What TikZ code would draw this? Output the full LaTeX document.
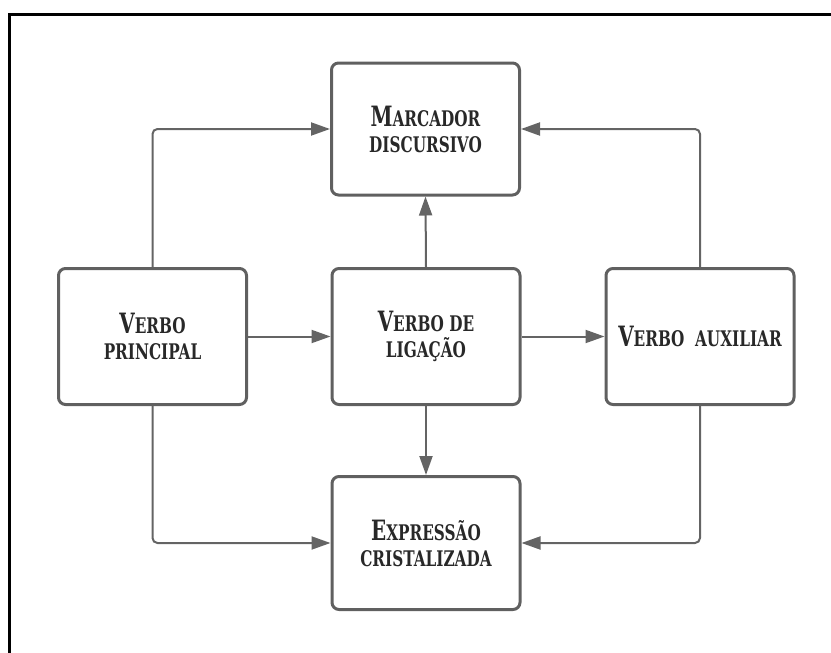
\documentclass[tikz,border=0pt]{standalone}
\usepackage{fontspec}
\setmainfont{DejaVu Serif}[FakeStretch=0.71]
\usepackage{tikz}
\usetikzlibrary{arrows.meta}
\definecolor{BoxGray}{RGB}{96, 96, 96}
\definecolor{LinkGray}{RGB}{100, 100, 100}
\definecolor{InkGray}{RGB}{40, 40, 40}
\newcommand{\bigini}[1]{{\fontsize{28}{26}\selectfont #1}}

\begin{document}
\begin{tikzpicture}[x=1pt, y=-1pt,
    box/.style = {draw = BoxGray, line width = 3pt, rounded corners = 7pt,
        minimum width = 188pt, minimum height = 136pt, align = center,
        text = InkGray, font = \bfseries\fontsize{21.5}{26}\selectfont},
    link/.style = {draw = LinkGray, line width = 2pt, rounded corners = 5pt,
        -{Triangle[length = 19pt, width = 13pt]}}]
    \useasboundingbox (0,0) rectangle (831,653);
    % Frame
    \draw[line width = 3pt] (9,653) to (9,14) to (831,14);
    % Boxes
    \node[box, minimum height = 132pt] (marc) at (425.5,129) {\bigini{M}ARCADOR\\DISCURSIVO};
    \node[box] (princ) at (152.5,336.5) {\bigini{V}ERBO\\PRINCIPAL};
    \node[box] (lig) at (426,336.5) {\bigini{V}ERBO DE\\LIGAÇÃO};
    \node[box] (aux) at (700,336.5) {\bigini{V}ERBO\ \ AUXILIAR};
    \node[box, minimum height = 133pt] (expr) at (426,543) {\bigini{E}XPRESSÃO\\CRISTALIZADA};
    % Links
    \draw[link] (princ.north) |- (marc.west);
    \draw[link] (aux.north) |- (marc.east);
    \draw[link] (lig.north) to (marc.south);
    \draw[link] (princ.east) to (lig.west);
    \draw[link] (lig.east) to (aux.west);
    \draw[link] (lig.south) to (expr.north);
    \draw[link] (princ.south) |- (expr.west);
    \draw[link] (aux.south) |- (expr.east);
\end{tikzpicture}
\end{document}
